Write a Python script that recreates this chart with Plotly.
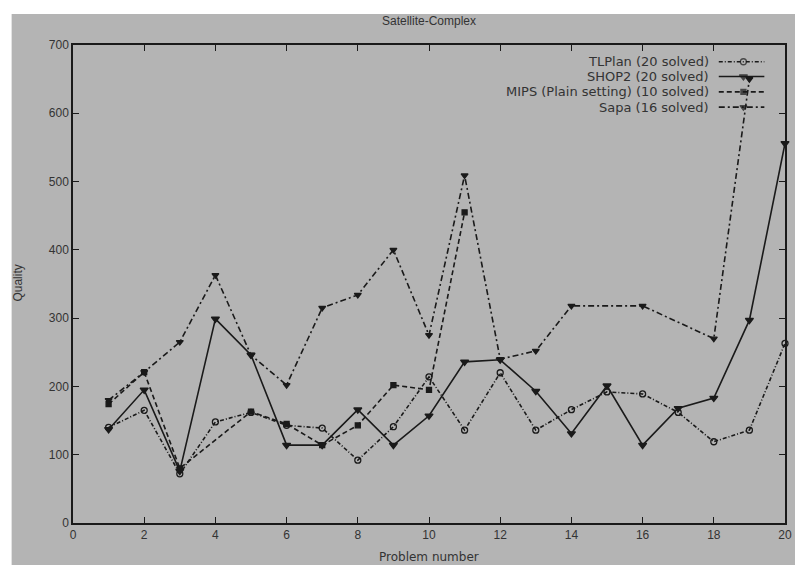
import plotly.graph_objects as go

# ---------------- data ----------------
problems = list(range(1, 21))

tlplan_x = problems
tlplan_y = [140, 165, 72, 148, 162, 143, 139, 92, 141, 214, 136, 220, 136, 166, 192, 189, 162, 119, 136, 263]

shop2_x = problems
shop2_y = [137, 195, 76, 299, 246, 114, 114, 166, 114, 157, 236, 239, 193, 131, 201, 114, 168, 183, 297, 556]

mips_x = [1, 2, 3, 5, 6, 7, 8, 9, 10, 11]
mips_y = [174, 221, 80, 163, 145, 114, 143, 202, 195, 455]

sapa_x = [1, 2, 3, 4, 5, 6, 7, 8, 9, 10, 11, 12, 13, 14, 16, 18, 19]
sapa_y = [180, 221, 265, 363, 246, 202, 315, 334, 400, 275, 509, 240, 252, 318, 318, 270, 650]

series_names = ["TLPlan (20 solved)", "SHOP2 (20 solved)",
                "MIPS (Plain setting) (10 solved)", "Sapa (16 solved)"]

x_ticks = [0, 2, 4, 6, 8, 10, 12, 14, 16, 18, 20]
y_ticks = [0, 100, 200, 300, 400, 500, 600, 700]

# ---------------- styles ----------------
GRAY = "#b4b4b4"
INK = "#1a1a1a"
TXT = "#333333"
FONT = "Liberation Sans, Arial, sans-serif"

styles = [
    dict(dash="4px,2px,1px,2px", symbol="circle-open", size=6),
    dict(dash="solid", symbol="triangle-down", size=7),
    dict(dash="5px,3px", symbol="square", size=5),
    dict(dash="6px,3px,2px,3px", symbol="triangle-down", size=6),
]

data = [(tlplan_x, tlplan_y), (shop2_x, shop2_y), (mips_x, mips_y), (sapa_x, sapa_y)]

fig = go.Figure()
for (xs, ys), st, name in zip(data, styles, series_names):
    fig.add_trace(go.Scatter(
        x=xs, y=ys, mode="lines+markers", name=name, showlegend=False,
        line=dict(color=INK, width=1.6, dash=st["dash"]),
        marker=dict(symbol=st["symbol"], size=st["size"], color=INK,
                    line=dict(color=INK, width=1.3)),
        cliponaxis=False,
    ))

# ---------------- gnuplot-style key (text left of sample) ----------------
key_y = [0.965, 0.934, 0.902, 0.870]
key_x0, key_xm, key_x1 = 0.907, 0.9416, 0.971
key_text_x = 0.8957
for st, name, ky in zip(styles, series_names, key_y):
    fig.add_trace(go.Scatter(
        x=[key_x0, key_xm, key_x1], y=[ky, ky, ky], xaxis="x2", yaxis="y2",
        mode="lines+markers", showlegend=False, hoverinfo="skip",
        line=dict(color=INK, width=1.6, dash=st["dash"]),
        marker=dict(symbol=st["symbol"], size=[0, st["size"], 0], color=INK,
                    line=dict(color=INK, width=1.3)),
    ))

annotations = []
for name, ky in zip(series_names, key_y):
    annotations.append(dict(
        text=name, xref="paper", yref="paper", x=key_text_x, y=ky,
        xanchor="right", yanchor="middle", showarrow=False,
        font=dict(family="DejaVu Sans, sans-serif", size=13, color=TXT),
    ))

annotations.append(dict(
    text="Quality", xref="paper", yref="paper", x=-0.0765, y=0.502,
    textangle=-90, showarrow=False, xanchor="center", yanchor="middle",
    font=dict(family=FONT, size=12, color=TXT)))
annotations.append(dict(
    text="Problem number", xref="paper", yref="paper", x=0.5, y=-0.052,
    showarrow=False, xanchor="center", yanchor="top",
    font=dict(family="DejaVu Sans, sans-serif", size=12, color=TXT)))

axis_common = dict(
    showline=True, linecolor=INK, linewidth=1.5, mirror="ticks",
    ticks="inside", ticklen=6, tickcolor=INK, tickwidth=1.3,
    showgrid=False, zeroline=False,
    tickfont=dict(family=FONT, size=12, color=TXT),
)

# the page body has an 8px margin, so the figure is 8px smaller than the window
fig.update_layout(
    width=795, height=557,
    margin=dict(l=65, r=11, t=37, b=42),
    paper_bgcolor="white", plot_bgcolor=GRAY,
    title=dict(text="Satellite-Complex", x=0.5, xref="paper", xanchor="center",
               yref="container", y=0.977, yanchor="middle",
               font=dict(family=FONT, size=12, color=TXT)),
    xaxis=dict(range=[0, 20], tickvals=x_ticks, **axis_common),
    yaxis=dict(range=[0, 700], tickvals=y_ticks, **axis_common),
    xaxis2=dict(range=[0, 1], overlaying="x", visible=False),
    yaxis2=dict(range=[0, 1], overlaying="y", visible=False),
    annotations=annotations,
    shapes=[dict(type="rect", xref="paper", yref="paper", layer="below",
                 x0=-0.0862, x1=1.03, y0=-0.1, y1=1.065,
                 fillcolor=GRAY, line=dict(width=0))],
    showlegend=False,
)

fig.write_html("out.html")
